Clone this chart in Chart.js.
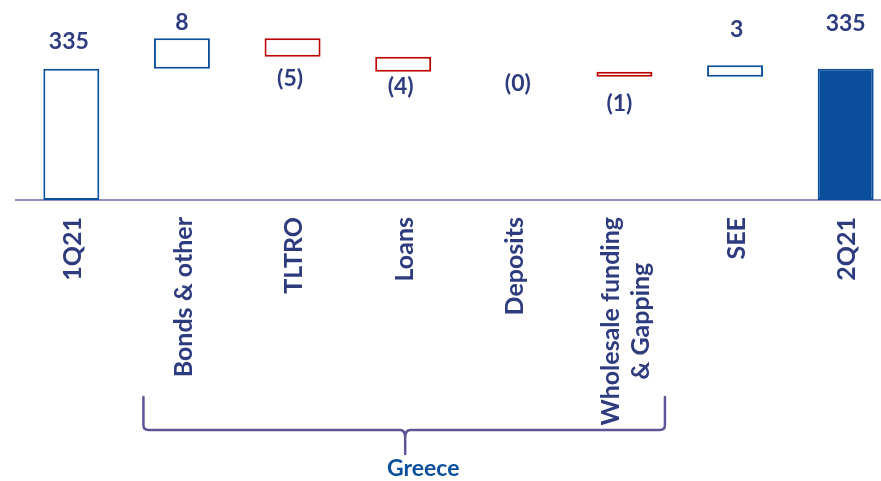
<!DOCTYPE html>
<html><head><meta charset="utf-8">
<script src="https://cdn.jsdelivr.net/npm/chart.js@4/dist/chart.umd.min.js"></script>
<style>
html,body{margin:0;padding:0;background:#fff;overflow:hidden;width:881px;height:481px}
#wrap{position:relative;width:901px;height:481px}
</style></head><body>
<div id="wrap"><canvas id="c"></canvas></div>
<script>
// ---- data ----
const categories = [["1Q21"],["Bonds & other"],["TLTRO"],["Loans"],["Deposits"],["Wholesale funding","& Gapping"],["SEE"],["2Q21"]];
const startValue = 335;
const changes = [8, -4.9, -3.9, 0, -1.3, 3.0];
const endValue = 335;
const valueLabels = ["335","8","(5)","(4)","(0)","(1)","3","335"];
const groupLabel = "Greece";

// ---- styles ----
const AXIS_MIN = 300.6, AXIS_MAX = 353;
const NAVY = "#2E3B7E", BLUE = "#0B4F9C", RED = "#C00000";
const labelDy = [-27.5, -16, 21.5, 14.5, 11.5, 27, -36, -45.5];
const labelDx = [-2.5, 0, -2.5, -2.5, 4, -5, 1.5, 0];

// build floating bars from the values
const ranges = [];
ranges.push([AXIS_MIN, startValue]);
let run = startValue;
changes.forEach(c => { ranges.push([run, run + c]); run += c; });
ranges.push([AXIS_MIN, endValue]);
const kinds = ["total"].concat(changes.map(c => c >= 0 ? "up" : "down"), ["totalFilled"]);
const deltas = [startValue].concat(changes, [endValue]);

const borderCols = kinds.map(k => k === "down" ? RED : BLUE);
const bgCols = kinds.map(k => k === "totalFilled" ? BLUE : "#ffffff");

const overlay = {
  id: "overlay",
  afterDatasetsDraw(chart) {
    const ctx = chart.ctx;
    const meta = chart.getDatasetMeta(0);
    const xs = chart.scales.x;
    ctx.save();
    // value labels
    ctx.font = "bold 23px Lato";
    ctx.fillStyle = NAVY;
    ctx.textAlign = "center";
    ctx.textBaseline = "middle";
    meta.data.forEach((bar, i) => {
      const top = Math.min(bar.y, bar.base), bottom = Math.max(bar.y, bar.base);
      const yy = (kinds[i] === "down") ? bottom + labelDy[i] : top + labelDy[i];
      ctx.fillText(valueLabels[i], bar.x + labelDx[i], yy);
    });
    // category labels, rotated
    ctx.font = "bold 25px Lato";
    categories.forEach((lines, i) => {
      const x = xs.getPixelForValue(i) + 1.5;
      const widths = lines.map(l => ctx.measureText(l).width);
      const blockW = Math.max.apply(null, widths);
      const lh = 30.5;
      ctx.save();
      ctx.translate(x, 217);
      ctx.rotate(-Math.PI / 2);
      ctx.textAlign = "center";
      ctx.textBaseline = "middle";
      lines.forEach((l, j) => {
        const off = (j - (lines.length - 1) / 2) * lh;
        ctx.fillText(l, -blockW / 2, off);
      });
      ctx.restore();
    });
    // Greece bracket
    const left = xs.getPixelForValue(1) - 38.5;
    const right = xs.getPixelForValue(5) + 40.5;
    const mid = (left + right) / 2 + 1;
    const top = 397, hy = 430, tip = 454, r = 5;
    ctx.strokeStyle = "#5E5597";
    ctx.lineWidth = 2.5;
    ctx.lineCap = "round";
    ctx.beginPath();
    ctx.moveTo(left, top);
    ctx.lineTo(left, hy - r);
    ctx.quadraticCurveTo(left, hy, left + r, hy);
    ctx.lineTo(mid - r, hy);
    ctx.quadraticCurveTo(mid, hy, mid, hy + 8);
    ctx.lineTo(mid, tip);
    ctx.moveTo(mid, hy + 8);
    ctx.quadraticCurveTo(mid, hy, mid + r, hy);
    ctx.lineTo(right - r, hy);
    ctx.quadraticCurveTo(right, hy, right, hy - r);
    ctx.lineTo(right, top);
    ctx.stroke();
    ctx.font = "bold 23px Lato";
    ctx.fillStyle = BLUE;
    ctx.textAlign = "center";
    ctx.textBaseline = "middle";
    ctx.fillText(groupLabel, mid + 18, 469);
    ctx.restore();
  }
};

new Chart(document.getElementById("c"), {
  type: "bar",
  data: {
    labels: categories.map(c => c.join(" ")),
    datasets: [{
      data: ranges,
      backgroundColor: bgCols,
      borderColor: borderCols,
      borderWidth: ctx => (deltas[ctx.dataIndex] === 0 ? 0 : 2),
      borderSkipped: false,
      barPercentage: 0.506,
      categoryPercentage: 1
    }]
  },
  options: {
    responsive: true,
    maintainAspectRatio: false,
    animation: false,
    layout: { padding: { left: 16, right: 0, top: 0, bottom: 0 } },
    plugins: { legend: { display: false }, tooltip: { enabled: false } },
    scales: {
      x: {
        offset: true,
        grid: { display: false, drawTicks: false },
        border: { display: true, color: "#8E90B4", width: 2 },
        ticks: { display: false },
        afterFit: s => { s.height = 281; }
      },
      y: {
        display: false,
        min: AXIS_MIN,
        max: AXIS_MAX
      }
    }
  },
  plugins: [overlay]
});
</script>
</body></html>
